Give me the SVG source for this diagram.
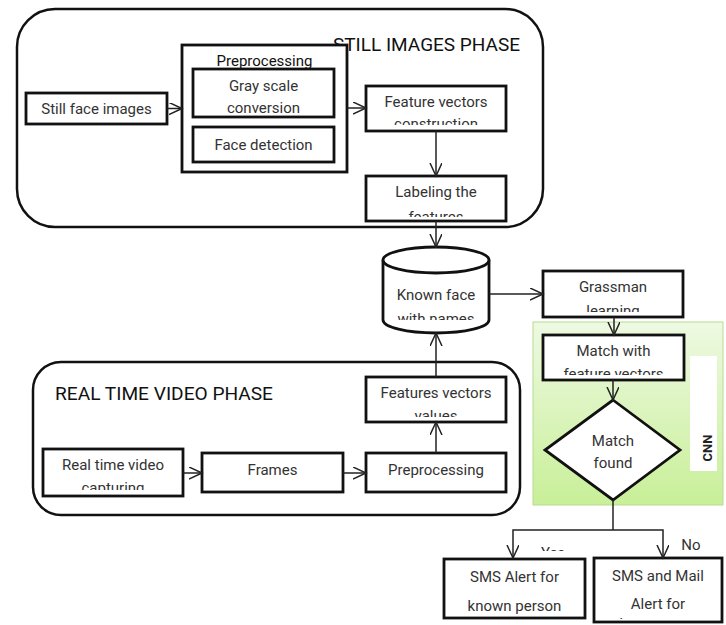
<svg xmlns="http://www.w3.org/2000/svg" width="726" height="625" viewBox="0 0 726 625">
<style>
.bg{fill:#fff}
.phase{fill:#fff;stroke:#111;stroke-width:2.5}
.box{fill:#fff;stroke:#111;stroke-width:2.8}
.t{font-family:Roboto,"Liberation Sans",Arial,sans-serif;font-size:15px;fill:#333;text-anchor:middle}
.title{font-family:Roboto,"Liberation Sans",Arial,sans-serif;font-size:18px;fill:#111}
.conn{fill:none;stroke:#222;stroke-width:1.5}
.arr{marker-end:url(#ah)}
</style>
<defs>
<marker id="ah" markerUnits="userSpaceOnUse" markerWidth="16" markerHeight="14" refX="13" refY="6" orient="auto">
<path d="M0,0 L13,6 L0,12" fill="none" stroke="#222" stroke-width="1.5"/>
</marker>
<linearGradient id="green" x1="0" y1="0" x2="0" y2="1">
<stop offset="0" stop-color="#eef9e2"/>
<stop offset="1" stop-color="#c8ef98"/>
</linearGradient>
<clipPath id="cGray"><rect x="193" y="69" width="141" height="44"/></clipPath>
<clipPath id="cFeat"><rect x="366" y="86" width="140" height="39"/></clipPath>
<clipPath id="cLab"><rect x="366" y="176" width="140" height="41"/></clipPath>
<clipPath id="cCyl"><rect x="383" y="247" width="106" height="73"/></clipPath>
<clipPath id="cGras"><rect x="543" y="271" width="140" height="41"/></clipPath>
<clipPath id="cMatch"><rect x="543" y="335" width="141" height="40"/></clipPath>
<clipPath id="cVal"><rect x="366" y="377" width="140" height="40"/></clipPath>
<clipPath id="cCap"><rect x="43" y="449" width="140" height="41"/></clipPath>
<clipPath id="cMail"><rect x="594" y="558" width="128" height="61"/></clipPath>
<clipPath id="cYes"><rect x="520" y="535" width="70" height="16"/></clipPath>
</defs>
<rect class="bg" x="0" y="0" width="726" height="625"/>

<g id="still-phase">
<rect class="phase" x="17" y="9" width="526" height="218" rx="38" ry="38"/>
<text class="title" x="333" y="51" textLength="187" lengthAdjust="spacingAndGlyphs">STILL IMAGES PHASE</text>
</g>

<g id="real-phase">
<rect class="phase" x="33" y="362" width="487" height="153" rx="28" ry="28"/>
<text class="title" x="55" y="400" textLength="218" lengthAdjust="spacingAndGlyphs">REAL TIME VIDEO PHASE</text>
</g>

<g id="cnn">
<rect x="533" y="322" width="190" height="183" fill="url(#green)" stroke="#b6dc90" stroke-width="1"/>
<rect x="690" y="356" width="27" height="115" fill="#fff"/>
<text transform="translate(712,448) rotate(-90)" font-family="Roboto,'Liberation Sans',Arial,sans-serif" font-size="13" font-weight="bold" fill="#222" text-anchor="middle">CNN</text>
</g>

<g id="still-face">
<rect class="box" x="26" y="93" width="141" height="31"/>
<text class="t" x="96.5" y="114">Still face images</text>
</g>

<g id="preprocessing">
<rect class="box" x="182" y="45" width="165" height="127"/>
<text class="t" x="264.5" y="66" style="fill:#111">Preprocessing</text>
</g>

<g id="gray-scale">
<rect class="box" x="193" y="69" width="141" height="48"/>
<g clip-path="url(#cGray)">
<text class="t" x="263.5" y="91">Gray scale</text>
<text class="t" x="263.5" y="113">conversion</text>
</g>
</g>

<g id="face-detection">
<rect class="box" x="193" y="127" width="141" height="35"/>
<text class="t" x="263.5" y="150">Face detection</text>
</g>

<g id="feature-construction">
<rect class="box" x="366" y="86" width="140" height="45"/>
<g clip-path="url(#cFeat)">
<text class="t" x="436" y="107">Feature vectors</text>
<text class="t" x="436" y="129">construction</text>
</g>
</g>

<g id="labeling">
<rect class="box" x="366" y="176" width="140" height="45"/>
<g clip-path="url(#cLab)">
<text class="t" x="436" y="197">Labeling the</text>
<text class="t" x="436" y="222">features</text>
</g>
</g>

<g id="known-face">
<path class="box" d="M383,260 L383,320 A53,13 0 0 0 489,320 L489,260 A53,13 0 0 0 383,260 Z"/>
<path class="box" d="M383,260 A53,13 0 0 0 489,260" fill="none"/>
<g clip-path="url(#cCyl)">
<text class="t" x="436" y="300">Known face</text>
<text class="t" x="436" y="324">with names</text>
</g>
</g>

<g id="grassman">
<rect class="box" x="543" y="271" width="140" height="46"/>
<g clip-path="url(#cGras)">
<text class="t" x="613" y="292">Grassman</text>
<text class="t" x="613" y="316">learning</text>
</g>
</g>

<g id="match-with">
<rect class="box" x="543" y="335" width="141" height="45"/>
<g clip-path="url(#cMatch)">
<text class="t" x="613.5" y="356">Match with</text>
<text class="t" x="613.5" y="379">feature vectors</text>
</g>
</g>

<g id="match-found">
<path class="box" d="M613,400 L680,450 L613,500 L545,450 Z"/>
<text class="t" x="613" y="446">Match</text>
<text class="t" x="613" y="468">found</text>
</g>

<g id="features-values">
<rect class="box" x="366" y="377" width="140" height="45"/>
<g clip-path="url(#cVal)">
<text class="t" x="436" y="398">Features vectors</text>
<text class="t" x="436" y="421">values</text>
</g>
</g>

<g id="real-capture">
<rect class="box" x="43" y="449" width="140" height="47"/>
<g clip-path="url(#cCap)">
<text class="t" x="113" y="470">Real time video</text>
<text class="t" x="113" y="493">capturing</text>
</g>
</g>

<g id="frames">
<rect class="box" x="202" y="453" width="141" height="39"/>
<text class="t" x="272.5" y="475">Frames</text>
</g>

<g id="preprocessing2">
<rect class="box" x="366" y="453" width="140" height="39"/>
<text class="t" x="436" y="475">Preprocessing</text>
</g>

<g id="sms-known">
<rect class="box" x="444" y="559" width="141" height="59"/>
<text class="t" x="514.5" y="582">SMS Alert for</text>
<text class="t" x="514.5" y="611">known person</text>
</g>

<g id="sms-mail">
<rect class="box" x="594" y="558" width="128" height="64"/>
<g clip-path="url(#cMail)">
<text class="t" x="658" y="581">SMS and Mail</text>
<text class="t" x="658" y="609">Alert for</text>
<text class="t" x="658" y="629">unknown person</text>
</g>
</g>

<g id="connectors">
<line class="conn arr" x1="167" y1="108.5" x2="182" y2="108.5"/>
<line class="conn arr" x1="347" y1="108" x2="366" y2="108"/>
<line class="conn arr" x1="436" y1="131" x2="436" y2="176"/>
<line class="conn arr" x1="436" y1="221" x2="436" y2="247"/>
<line class="conn arr" x1="489" y1="294" x2="543" y2="294"/>
<line class="conn arr" x1="614" y1="317" x2="614" y2="335"/>
<line class="conn arr" x1="613" y1="380" x2="613" y2="400"/>
<polyline class="conn" points="613,500 613,530"/>
<polyline class="conn arr" points="613,530 513,530 513,558"/>
<polyline class="conn arr" points="613,530 663,530 663,558"/>
<line class="conn arr" x1="183" y1="473" x2="202" y2="473"/>
<line class="conn arr" x1="343" y1="473" x2="366" y2="473"/>
<line class="conn arr" x1="436" y1="453" x2="436" y2="422"/>
<line class="conn arr" x1="436" y1="377" x2="436" y2="333"/>
<g clip-path="url(#cYes)">
<text class="t" x="553" y="558">Yes</text>
</g>
<text class="t" x="691" y="550">No</text>
</g>
</svg>
